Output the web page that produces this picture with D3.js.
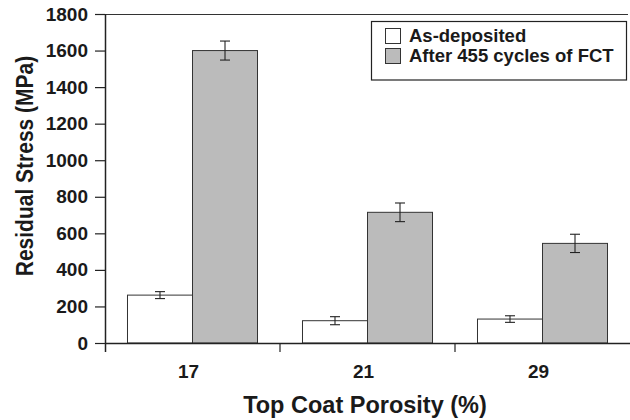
<!DOCTYPE html>
<html><head><meta charset="utf-8">
<script src="https://cdn.jsdelivr.net/npm/d3@7"></script>
<style>html,body{margin:0;padding:0;background:#fff}svg{display:block}</style>
</head><body>
<script>
const categories = ["17", "21", "29"];
const seriesNames = ["As-deposited", "After 455 cycles of FCT"];
const asDeposited = [262, 122, 131];
const asDepositedErr = [19, 22, 18];
const afterFCT = [1600, 715, 545];
const afterFCTErr = [52, 51, 50];
const yTicks = [0, 200, 400, 600, 800, 1000, 1200, 1400, 1600, 1800];

const W = 630, H = 420;
const m = {left: 105, right: 0, top: 14, bottom: 77};
const svg = d3.select("body").append("svg").attr("width", W).attr("height", H);
const font = "'Liberation Sans', Arial, Helvetica, sans-serif";
const ink = "#1a1a1a";

const x = d3.scaleBand().domain(categories).range([m.left, 630]).paddingInner(0).paddingOuter(0);
const y = d3.scaleLinear().domain([0, 1800]).range([H - m.bottom, m.top]);
const sub = d3.scaleBand().domain(seriesNames).range([0, x.bandwidth()]).paddingInner(0).paddingOuter(0.346);

const series = [
  {name: seriesNames[0], vals: asDeposited, errs: asDepositedErr, fill: "#ffffff"},
  {name: seriesNames[1], vals: afterFCT, errs: afterFCTErr, fill: "#bbbbbb"}
];

// top border
svg.append("line").attr("x1", m.left).attr("x2", 628).attr("y1", m.top + 0.5).attr("y2", m.top + 0.5)
  .attr("stroke", "#333").attr("stroke-width", 1.2);

// bars
series.forEach(s => {
  categories.forEach((c, i) => {
    const bx = x(c) + sub(s.name);
    svg.append("rect").attr("x", bx).attr("y", y(s.vals[i]))
      .attr("width", sub.bandwidth()).attr("height", y(0) - y(s.vals[i]))
      .attr("fill", s.fill).attr("stroke", "#333").attr("stroke-width", 1);
    const cx = bx + sub.bandwidth() / 2;
    const e = svg.append("g").attr("stroke", "#222").attr("stroke-width", 1.1);
    e.append("line").attr("x1", cx).attr("x2", cx).attr("y1", y(s.vals[i] + s.errs[i])).attr("y2", y(s.vals[i] - s.errs[i]));
    e.append("line").attr("x1", cx - 5).attr("x2", cx + 5).attr("y1", y(s.vals[i] + s.errs[i])).attr("y2", y(s.vals[i] + s.errs[i]));
    e.append("line").attr("x1", cx - 5).attr("x2", cx + 5).attr("y1", y(s.vals[i] - s.errs[i])).attr("y2", y(s.vals[i] - s.errs[i]));
  });
});

// y axis
const ya = svg.append("g").attr("transform", `translate(${m.left},0)`)
  .call(d3.axisLeft(y).tickValues(yTicks).tickSize(10).tickPadding(7).tickFormat(d3.format("d")));
ya.select(".domain").attr("stroke", "#222").attr("stroke-width", 1.5).attr("d", `M0.5,${m.top}V${H - m.bottom + 9}`);
ya.selectAll(".tick line").attr("stroke", "#222").attr("stroke-width", 1.2);
ya.selectAll("text").attr("font-family", font).attr("font-weight", "bold").attr("font-size", 19).attr("fill", ink);

// x axis
const xa = svg.append("g").attr("transform", `translate(0,${y(0)})`);
xa.append("line").attr("x1", m.left).attr("x2", W).attr("y1", 0.5).attr("y2", 0.5).attr("stroke", "#222").attr("stroke-width", 1.5);
categories.forEach((c, i) => {
  if (i > 0) xa.append("line").attr("x1", x(c)).attr("x2", x(c)).attr("y1", 0).attr("y2", 9).attr("stroke", "#222").attr("stroke-width", 1.2);
  xa.append("text").attr("x", x(c) + x.bandwidth() / 2 - 4).attr("y", 35).attr("text-anchor", "middle")
    .attr("font-family", font).attr("font-weight", "bold").attr("font-size", 19).attr("fill", ink).text(c);
});

// titles
svg.append("text").attr("x", 365).attr("y", 413).attr("text-anchor", "middle")
  .attr("font-family", font).attr("font-weight", "bold").attr("font-size", 23.5).attr("fill", ink).text("Top Coat Porosity (%)");
svg.append("text").attr("transform", "translate(33,166) rotate(-90) scale(1,1.1)").attr("text-anchor", "middle")
  .attr("font-family", font).attr("font-weight", "bold").attr("font-size", 21).attr("fill", ink).text("Residual Stress (MPa)");

// legend
const lg = svg.append("g");
lg.append("rect").attr("x", 371.5).attr("y", 21.5).attr("width", 255).attr("height", 58.5)
  .attr("fill", "#fff").attr("stroke", "#222").attr("stroke-width", 1.2);
series.forEach((s, i) => {
  lg.append("rect").attr("x", 385.5).attr("y", 28.5 + i * 20).attr("width", 15).attr("height", 15)
    .attr("fill", s.fill).attr("stroke", "#333").attr("stroke-width", 1);
  lg.append("text").attr("x", 409).attr("y", 42 + i * 20).attr("font-family", font).attr("font-weight", "bold")
    .attr("font-size", 18.5).attr("fill", ink).text(s.name);
});
</script>
</body></html>
